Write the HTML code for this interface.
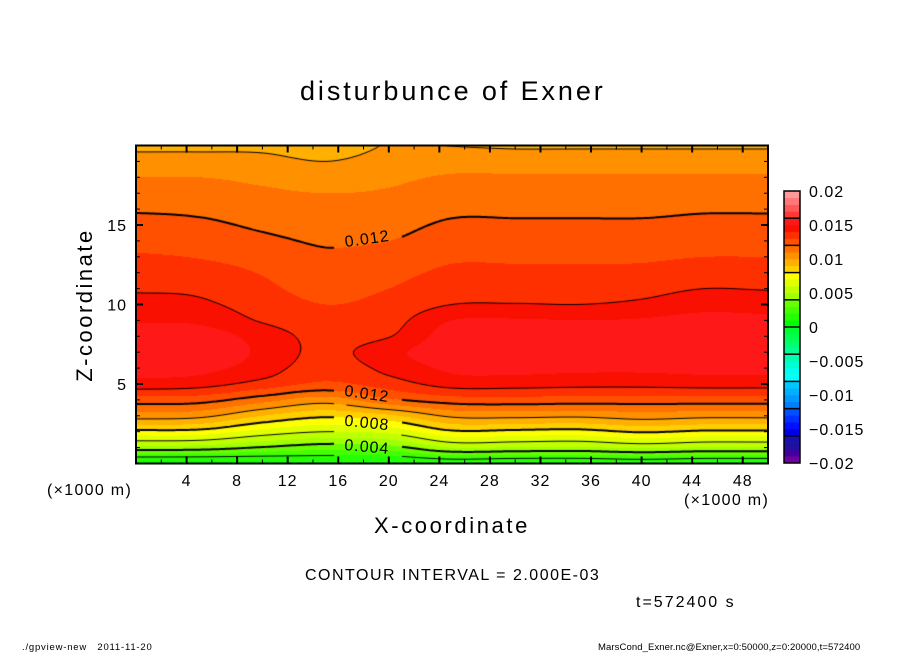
<!DOCTYPE html>
<html><head><meta charset="utf-8">
<style>
html,body{margin:0;padding:0;background:#fff;}
#wrap{position:relative;width:904px;height:654px;overflow:hidden;font-family:"Liberation Sans",sans-serif;color:#000;}
.t{position:absolute;white-space:nowrap;}
canvas{position:absolute;}
</style></head>
<body>
<div id="wrap">
<div class="t" style="left:300px;top:76px;font-size:27px;letter-spacing:2.9px;">disturbunce of Exner</div>
<div class="t" style="left:8px;top:292px;font-size:22px;transform:rotate(-90deg);transform-origin:center;width:154px;text-align:center;letter-spacing:2.5px;">Z-coordinate</div>
<div class="t" style="left:374px;top:513px;font-size:22px;letter-spacing:2.6px;">X-coordinate</div>
<div class="t" style="left:47px;top:482px;font-size:16px;letter-spacing:1.3px;">(×1000 m)</div>
<div class="t" style="left:684px;top:492px;font-size:16px;letter-spacing:1.3px;">(×1000 m)</div>
<div class="t" style="left:305px;top:567px;font-size:16px;letter-spacing:1.5px;">CONTOUR INTERVAL = 2.000E-03</div>
<div class="t" style="left:636px;top:594px;font-size:16px;letter-spacing:2px;">t=572400 s</div>
<div class="t" style="left:22px;top:642px;font-size:9.5px;letter-spacing:0.8px;">./gpview-new&nbsp;&nbsp;&nbsp;2011-11-20</div>
<div class="t" style="left:598px;top:642px;font-size:9.5px;letter-spacing:0.1px;">MarsCond_Exner.nc@Exner,x=0:50000,z=0:20000,t=572400</div>
<canvas id="field" width="632" height="318" style="left:136px;top:145px;"></canvas>
<svg id="ax" width="904" height="654" style="position:absolute;left:0;top:0;"></svg>
</div>
<script>
// ---- data (values in units of 1e-3) ----
const xGrid = [0, 5, 10, 15, 20, 25, 30, 35, 40, 45, 50];
const zGrid = [0,1,2,3,4,5,6,7,8,9,10,11,12,13,14,15,16,17,18,19,20];
const col0  = [0.6,4.6,7.7,10.5,12.5,14.6,15.4,15.8,15.6,14.9,14.3,13.9,13.5,13.1,12.7,12.3,11.9,11.45,11.0,10.4,9.8];
const col5  = [0.6,4.5,7.6,10.3,12.4,14.4,15.3,15.7,15.5,14.8,14.2,13.8,13.4,12.95,12.6,12.2,11.8,11.4,11.0,10.4,9.8];
const col10 = [0.7,3.9,6.6,9.0,11.4,13.6,14.5,14.8,14.6,13.9,13.5,13.2,12.95,12.6,12.2,11.85,11.5,11.15,10.8,10.3,9.8];
const col15 = [0.9,3.4,6.0,8.2,10.5,12.8,13.4,13.7,13.6,13.3,13.0,12.7,12.45,12.15,11.9,11.65,11.4,11.0,10.6,10.0,9.5];
const col20 = [0.8,3.6,6.3,8.8,11.8,13.5,14.3,14.7,13.95,13.6,13.3,13.0,12.7,12.4,12.0,11.7,11.4,11.1,10.8,10.4,10.05];
const col25 = [1.2,5.0,7.8,10.2,12.5,14.4,15.2,15.6,15.5,15.0,14.0,13.6,13.2,12.85,12.5,12.15,11.8,11.45,11.1,10.6,9.98];
const col30 = [1.0,4.9,7.7,10.3,12.6,14.4,15.3,15.7,15.6,15.1,14.05,13.6,13.2,12.85,12.5,12.15,11.8,11.45,11.1,10.55,9.9];
const col35 = [1.0,4.8,7.6,10.2,12.5,14.3,15.2,15.6,15.5,15.0,14.0,13.6,13.2,12.85,12.5,12.15,11.8,11.45,11.1,10.55,9.9];
const col40 = [1.2,5.2,8.1,10.5,12.5,14.3,15.2,15.7,15.6,15.1,14.2,13.7,13.25,12.85,12.5,12.15,11.8,11.45,11.1,10.55,9.9];
const col45 = [1.0,4.9,7.8,10.3,12.5,14.4,15.3,15.8,15.8,15.4,14.6,14.0,13.5,13.0,12.6,12.25,11.9,11.5,11.1,10.55,9.9];
const col50 = [1.0,4.9,7.8,10.3,12.5,14.4,15.3,15.8,15.7,15.3,14.5,13.95,13.5,13.0,12.6,12.25,11.9,11.5,11.1,10.55,9.9];
const columns = [col0,col5,col10,col15,col20,col25,col30,col35,col40,col45,col50];
const contourLevels = [2,4,6,8,10,12,14,16];
const xTicks = [4,8,12,16,20,24,28,32,36,40,44,48];
const zTicks = [5,10,15];
const cbarLabels = ["0.02","0.015","0.01","0.005","0","-0.005","-0.01","-0.015","-0.02"];
const cbarValues = [20,15,10,5,0,-5,-10,-15,-20];
const bandColors = [ // from -20 to 20 in steps of 1 (1e-3)
 "#7000a0","#4000a0","#2010a0","#1810a8",
 "#0000e8","#0010ff","#0030ff","#0050ff",
 "#0080ff","#0098ff","#00b0ff","#00c8ff",
 "#00ffff","#00fff0","#00ffd0","#00ffb0",
 "#00ff90","#00ff70","#00ff50","#00ff30",
 "#00ff00","#22ff00","#44ff00","#66ff00",
 "#a0ff00","#c0ff00","#e0ff00","#ffff00",
 "#ffd000","#ffb000","#ff9000","#ff7000",
 "#ff5000","#ff3000","#fa1000","#ff1818",
 "#ff3838","#ff5858","#ff7878","#ff9898"];

// ---- axes ----
const X0=136, X1=768, Y0=463.5, Y1=145.5;
function xPx(x){return X0+(x-0)/(50-0)*(X1-X0);}
function zPx(z){return Y0-(z-0)/(20-0)*(Y0-Y1);}
function cr(p0,p1,p2,p3,t){
  return 0.5*((2*p1)+(-p0+p2)*t+(2*p0-5*p1+4*p2-p3)*t*t+(-p0+3*p1-3*p2+p3)*t*t*t);
}
function colAt(c,z){
  const n=zGrid.length;
  let j=Math.min(n-2,Math.max(0,Math.floor(z))); const t=z-zGrid[j];
  const g=k=>c[Math.max(0,Math.min(n-1,k))];
  return cr(g(j-1),g(j),g(j+1),g(j+2),t);
}
function field(x,z){
  const n=xGrid.length, dx=xGrid[1]-xGrid[0];
  let i=Math.min(n-2,Math.max(0,Math.floor(x/dx))); const t=(x-xGrid[i])/dx;
  const g=k=>colAt(columns[Math.max(0,Math.min(n-1,k))],z);
  return cr(g(i-1),g(i),g(i+1),g(i+2),t);
}
function colorFor(v){let k=Math.floor(v+20);k=Math.max(0,Math.min(39,k));return bandColors[k];}

// fill
const cv=document.getElementById('field'), ctx=cv.getContext('2d');
const W=cv.width,H=cv.height;
for(let py=0;py<H;py++){
  const z=(Y0-(py+145+0.5))/(Y0-Y1)*20;
  let prev=null,start=0;
  for(let px=0;px<=W;px++){
    let c=null;
    if(px<W){const x=(px+136+0.5-X0)/(X1-X0)*50; c=colorFor(field(x,z));}
    if(c!==prev){ if(prev){ctx.fillStyle=prev;ctx.fillRect(start,py,px-start,1);} prev=c;start=px;}
  }
}
// label boxes (canvas coords) for gaps
const labelBoxes=[[198,82,266,104],[198,238,266,260],[198,267,266,290],[198,292,266,313]];
function inBox(x,y){return labelBoxes.some(b=>x>b[0]&&x<b[2]&&y>b[1]&&y<b[3]);}
// contours via marching squares
const S=2, nx=Math.ceil(W/S)+1, ny=Math.ceil(H/S)+1;
const g=[];
for(let j=0;j<ny;j++){g.push([]);for(let i=0;i<nx;i++){
  const x=(i*S+136-X0)/(X1-X0)*50, z=(Y0-(j*S+145))/(Y0-Y1)*20;
  g[j].push(field(Math.min(50,x),Math.max(0,Math.min(20,z))));}}
ctx.strokeStyle="#000";
contourLevels.forEach(L=>{
  ctx.lineWidth=(L%4===0)?2:1;
  ctx.beginPath();
  for(let j=0;j<ny-1;j++){
    for(let i=0;i<nx-1;i++){
      const v=[g[j][i],g[j][i+1],g[j+1][i+1],g[j+1][i]];
      const p=[[i*S,j*S],[(i+1)*S,j*S],[(i+1)*S,(j+1)*S],[i*S,(j+1)*S]];
      const pts=[];
      for(let e=0;e<4;e++){const a=v[e],b=v[(e+1)%4];
        if((a<L)!==(b<L)){const t=(L-a)/(b-a);const A=p[e],B=p[(e+1)%4];pts.push([A[0]+(B[0]-A[0])*t,A[1]+(B[1]-A[1])*t]);}}
      for(let k=0;k+1<pts.length;k+=2){
        const mx=(pts[k][0]+pts[k+1][0])/2,my=(pts[k][1]+pts[k+1][1])/2;
        if(inBox(mx,my))continue;
        ctx.moveTo(pts[k][0],pts[k][1]);ctx.lineTo(pts[k+1][0],pts[k+1][1]);
      }
    }
  }
  ctx.stroke();
});

// SVG axes
const NS="http://www.w3.org/2000/svg", svg=document.getElementById('ax');
function el(tag,attrs,txt){const e=document.createElementNS(NS,tag);for(const k in attrs)e.setAttribute(k,attrs[k]);if(txt!==undefined)e.textContent=txt;svg.appendChild(e);return e;}
const frame=el('rect',{x:X0,y:Y1,width:X1-X0,height:Y0-Y1,fill:'none',stroke:'#000','stroke-width':2});


for(let x=2;x<50;x+=2){
  const len=(x%4===0)?7:4, X=xPx(x);
  const t1=el('line',{x1:X,x2:X,y1:Y0,y2:Y0-len,stroke:'#000','stroke-width':(x%4===0)?2:1});
  
  
  const t2=el('line',{x1:X,x2:X,y1:Y1,y2:Y1+len,stroke:'#000','stroke-width':(x%4===0)?2:1});
  
  
}
for(let z=1;z<20;z++){
  const len=(z%5===0)?7:4, Y=zPx(z);
  const t1=el('line',{x1:X0,x2:X0+len,y1:Y,y2:Y,stroke:'#000','stroke-width':(z%5===0)?2:1});
  
  
  const t2=el('line',{x1:X1,x2:X1-len,y1:Y,y2:Y,stroke:'#000','stroke-width':(z%5===0)?2:1});
  
  
}
xTicks.forEach(x=>{
  const t=el('text',{x:xPx(x),y:486,'text-anchor':'middle','font-size':16,'letter-spacing':1,'font-family':'Liberation Sans, sans-serif'},String(x));
  
  
});
zTicks.forEach(z=>{
  const t=el('text',{x:127,y:zPx(z)+6,'text-anchor':'end','font-size':16,'letter-spacing':1,'font-family':'Liberation Sans, sans-serif'},String(z));
  
  
});
// contour labels
[["0.012",367,244,-8],["0.012",367,399,8],["0.008",367,428,6],["0.004",367,452,5]].forEach(d=>{
  const t=el('text',{x:d[1],y:d[2],'text-anchor':'middle','font-size':16,'letter-spacing':1,'font-family':'Liberation Sans, sans-serif',transform:`rotate(${d[3]} ${d[1]} ${d[2]-6})`},d[0]);
  
  
});
// colorbar
const CB0=191, CB1=463, CBx=784, CBw=16;
function cbY(v){return CB0+(20-v)/40*(CB1-CB0);}
bandColors.forEach((c,k)=>{
  const v=k-20;
  const r=el('rect',{x:CBx,y:cbY(v+1),width:CBw,height:cbY(v)-cbY(v+1)+0.3,fill:c});
  
  
});
for(let v=-16;v<20;v+=4){
  const l=el('line',{x1:CBx,x2:CBx+CBw,y1:cbY(v),y2:cbY(v),stroke:'#000','stroke-width':1.5});
  
  
}
const cbf=el('rect',{x:CBx,y:CB0,width:CBw,height:CB1-CB0,fill:'none',stroke:'#000','stroke-width':1.5});


cbarLabels.forEach((s,i)=>{
  const t=el('text',{x:809,y:cbY(cbarValues[i])+6,'font-size':16,'letter-spacing':1,'font-family':'Liberation Sans, sans-serif'},s.replace('-','\u2212'));
  
  
});
</script>
</body></html>
